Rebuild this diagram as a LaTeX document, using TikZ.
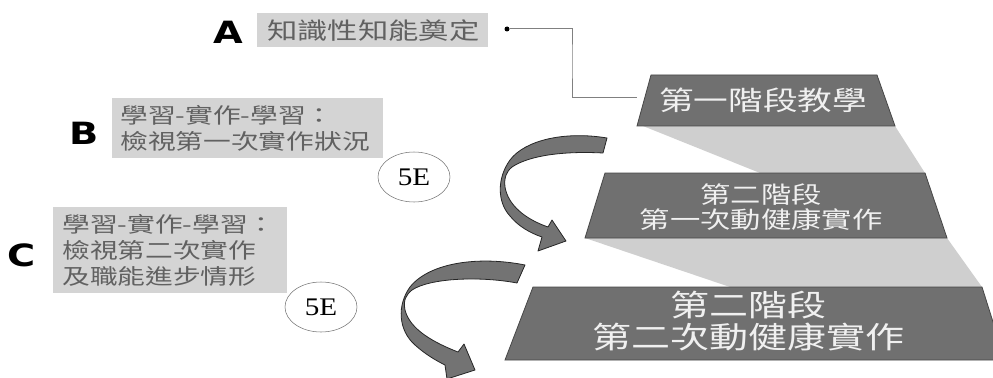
\documentclass[tikz,border=0pt]{standalone}
\usepackage{fontspec}
\newfontfamily\cjk{Noto Sans CJK TC}[FakeStretch=1.3]
\newfontfamily\letterfont{DejaVu Sans}[FakeStretch=1.25]
\newfontfamily\numfont{Liberation Serif}[FakeStretch=1.15]
\usetikzlibrary{shapes.geometric}
\tikzset{letter/.style = {inner sep=0pt, font=\letterfont\bfseries\fontsize{23}{23}\selectfont}}
\tikzset{infobox/.style = {fill=black!17, anchor=north west, align=left, inner ysep=0pt, text=black!62}}
\tikzset{stage/.style = {fill=black!56, draw=black!72, line width=0.6pt}}
\tikzset{stagetext/.style = {text=black!6, align=center, inner sep=0pt}}
\tikzset{shade/.style = {fill=black!19}}
\tikzset{fivee/.style = {draw=black!55, ellipse, minimum width=54pt, minimum height=37.5pt, inner sep=0pt, font=\numfont\fontsize{19}{19}\selectfont}}
\tikzset{turn/.style = {fill=black!55, draw=black!85, line width=0.6pt, line join=round}}
\tikzset{link/.style = {draw=black!50, line width=0.75pt}}

\begin{document}
\begin{tikzpicture}[x=0.75pt, y=-0.75pt]
  \useasboundingbox (0,0) rectangle (993,378);

  % grey bands between the stages
  \path[shade] (643,126) -- (895,126) -- (925,173) -- (760,173) -- cycle;
  \path[shade] (585,238) -- (947,238) -- (982,287) -- (730,287) -- cycle;

  % stages
  \path[stage] (651,75) -- (877,75) -- (895,126) -- (637,126) -- cycle;
  \path[stage] (605,173) -- (925,173) -- (947,238) -- (585,238) -- cycle;
  \path[stage] (533,287) -- (982,287) -- (1005,360) -- (505,360) -- cycle;
  \node [stagetext, font=\cjk\fontsize{20}{24}\selectfont] (s1) at (763,100) {第一階段教學};
  \node [stagetext, font=\cjk\fontsize{17.5}{18.75}\selectfont] (s2) at (761,207) {第二階段\\第一次動健康實作};
  \node [stagetext, font=\cjk\fontsize{22.5}{24}\selectfont] (s3) at (748,321) {第二階段\\第二次動健康實作};

  % boxes on the left
  \node [letter] (la) at (228,32) {A};
  \node [letter] (lb) at (84,133) {B};
  \node [letter] (lc) at (22,255) {C};
  \node [infobox, inner xsep=7.5pt, text width=158.25pt, minimum height=25.5pt,
         font=\cjk\fontsize{17.5}{20}\selectfont] (a) at (257,13) {知識性知能奠定};
  \node [infobox, inner xsep=6pt, text width=191.25pt, minimum height=45pt,
         font=\cjk\fontsize{16}{20}\selectfont] (b) at (112,98) {學習-實作-學習：\\檢視第一次實作狀況};
  \node [infobox, inner xsep=6.75pt, text width=162pt, minimum height=64.5pt,
         font=\cjk\fontsize{16}{19.5}\selectfont] (c) at (53,207) {學習-實作-學習：\\檢視第二次實作\\及職能進步情形};

  \node [fivee] (e1) at (414,177) {5E};
  \node [fivee] (e2) at (321,307) {5E};

  % link from A to the first stage
  \node [circle, fill=black, inner sep=0pt, minimum size=3.75pt] (dot) at (507,29) {};
  \coordinate (bend) at (572,60);
  \coordinate (s1in) at (637,98);
  \draw[link] (dot) -| (bend) |- (s1in);

  % curved arrows
  \path[turn] (607,138) .. controls (565,131) and (525,140) .. (510,160)
    .. controls (497,178) and (497,202) .. (510,216)
    .. controls (518,226) and (530,233) .. (542,237)
    -- (538,251) -- (566,241) -- (552,220) -- (548,227)
    .. controls (525,219) and (508,205) .. (505,187)
    .. controls (504,178) and (506,172) .. (512,167)
    .. controls (530,155) and (565,151) .. (603,153) -- cycle;
  \path[turn] (525,265) .. controls (480,256) and (430,262) .. (410,287)
    .. controls (397,305) and (398,330) .. (415,345)
    .. controls (425,354) and (435,360) .. (445,365)
    -- (447,379) -- (475,370) -- (464,344) -- (458,352)
    .. controls (435,343) and (410,330) .. (405,310)
    .. controls (403,300) and (406,295) .. (412,290)
    .. controls (430,278) and (480,276) .. (517,283) -- cycle;
\end{tikzpicture}
\end{document}
